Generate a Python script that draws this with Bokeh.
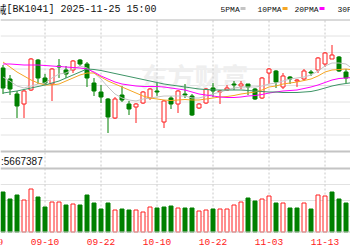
from bokeh.plotting import figure
from bokeh.models import Range1d, Span, Label, ColumnDataSource
from bokeh.core.properties import value
from bokeh.embed import file_html
from bokeh.resources import INLINE

# ---------------- data (price in chart units, volume in shares) ----------------
opens  = [85, 74, 59, 49, 63, 93, 75, 69, 87, 83, 83, 93, 89, 70, 61, 54, 35, 58, 49, 46,
          50, 55, 62, 31, 55, 49, 59, 57, 45, 50, 65, 61, 63, 69, 67, 69, 64, 55, 80, 82,
          66, 76, 72, 74, 81, 83, 89, 94, 96, 81, 77]
highs  = [88, 78, 62, 63, 95, 94, 79, 85, 94, 87, 93, 94, 91, 75, 68, 55, 56, 67, 52, 50,
          62, 65, 70, 53, 57, 63, 69, 59, 50, 65, 70, 63, 68, 72, 72, 69, 65, 76, 85, 83,
          80, 77, 74, 84, 83, 96, 101, 108, 97, 84, 79]
lows   = [59, 58, 35, 35, 62, 69, 68, 52, 75, 75, 80, 87, 66, 57, 50, 20, 34, 51, 38, 30,
          49, 53, 57, 25, 44, 40, 55, 37, 44, 49, 56, 49, 62, 63, 64, 58, 53, 54, 69, 65,
          64, 69, 66, 72, 77, 80, 86, 94, 81, 70, 62]
closes = [65, 64, 47, 62, 94, 75, 70, 84, 86, 79, 92, 89, 75, 62, 56, 36, 54, 53, 44, 49,
          61, 64, 61, 52, 49, 62, 58, 38, 49, 64, 62, 62, 65, 68, 69, 66, 54, 75, 84, 71,
          77, 74, 73, 82, 80, 95, 100, 98, 82, 75, 67]
close_before = 68

volumes = [5000000, 4125000, 4625000, 4000000, 5375000, 4375000, 3125000, 3750000, 3750000, 3375000,
           3500000, 3375000, 4625000, 3625000, 2875000, 3625000, 2750000, 2875000, 2750000, 2750000,
           2500000, 3125000, 3000000, 3125000, 3250000, 3000000, 3000000, 3000000, 2625000, 2750000,
           2875000, 2875000, 2875000, 3375000, 3750000, 4250000, 3875000, 4125000, 4500000, 3625000,
           3625000, 3000000, 3000000, 3625000, 2875000, 4625000, 4500000, 5000000, 4125000, 3625000,
           3000000]

ma5  = [76, 72, 67, 65, 67, 69, 70, 75, 79, 80, 84, 87, 85, 80, 74, 66, 59, 55, 53, 52,
        54, 55, 56, 57, 57, 57, 57, 55, 55, 57, 59, 61, 63, 65, 66, 66, 66, 67, 69, 70,
        72, 74, 75, 76, 78, 82, 87, 90, 90, 89, 84]
ma10 = [91, 86, 81, 77, 73, 70, 68, 68, 69, 72, 75, 78, 80, 80, 76, 72, 69, 66, 63, 60,
        57, 55, 54, 53, 52.5, 53, 53.5, 53, 53, 54, 55, 56, 56.5, 57.5, 59, 60, 61, 63, 66, 67,
        69, 70, 71, 72.5, 74, 77, 81, 83, 83.5, 84, 83]
ma20 = [89, 89, 88.5, 88, 88, 88, 87.5, 87, 86.5, 86, 85.5, 85, 84, 81, 77, 74, 71, 69, 68, 67,
        66.5, 66.5, 66.5, 66, 65, 64, 63, 61, 59, 58, 57, 56, 55.5, 55.5, 56, 57, 57.5, 58.5, 60, 61,
        62, 62.5, 63, 64.5, 66, 68, 70.5, 73, 74.5, 75, 75.5]
ma30 = [60, 61, 62, 63.5, 65, 66.5, 68, 70, 72, 75, 78, 81, 84, 83.5, 82.5, 81, 79.5, 78, 76.5, 75,
        73.5, 72, 70.5, 69, 68, 67, 66, 65, 64, 63.5, 63, 63, 63, 63, 63, 62.5, 62, 61.5, 61, 61,
        60.5, 60.5, 60.5, 61, 61.5, 63, 65, 67, 68.5, 69.5, 70.5]

date_pos = [-2, 6, 14, 22, 30, 38, 46]
date_labels = ["08-29", "09-10", "09-22", "10-10", "10-22", "11-03", "11-13"]

title_name = "医疗器械"
title_rest = "[BK1041] 2025-11-25 15:00"
ma_names = ["5PMA", "10PMA", "20PMA", "30PMA"]
ma_colors = ["#c4c4c4", "#f5a623", "#ff00ff", "#3d9466"]
vol_text = ":5667387"

UP = "#ff1e1e"
DOWN = "#008000"

# ---------------- layout helpers (screen pixel -> data) ----------------
VOL_PER_PX = 125000


def xd(px):
    return (px - 2.5) / 7.0


def yd(py):
    return 152.5 - py


p = figure(width=350, height=250, output_backend="svg", toolbar_location=None,
           x_range=Range1d(xd(0), xd(350)), y_range=Range1d(yd(250), yd(0)),
           x_axis_location=None, y_axis_location=None, min_border=0)
p.outline_line_color = None
p.grid.visible = False
p.background_fill_color = "white"
p.border_fill_color = "white"
p.extra_y_ranges = {"vol": Range1d(-18.5 * VOL_PER_PX, 231.5 * VOL_PER_PX)}

# watermark
p.text(x=[xd(140)], y=[yd(76)], text=["东方财富"], text_font=value("Noto Sans CJK SC"),
       text_font_size="27px", text_font_style="bold", text_color="#efefef",
       text_align="left", text_baseline="middle")

# horizontal grid lines
for py in [35.5, 52, 68.5, 85, 101.5, 118, 134.5]:
    p.add_layout(Span(location=yd(py), dimension="width", line_color="#e2e2e2",
                      line_width=1, level="underlay"))
for py in [184, 200, 216]:
    p.add_layout(Span(location=yd(py), dimension="width", line_color="#e2e2e2",
                      line_width=1, level="underlay"))
p.add_layout(Span(location=yd(19.5), dimension="width", line_color="#b4b4b4", line_width=1))
p.add_layout(Span(location=yd(151), dimension="width", line_color="#c4c4c4", line_width=2))
p.add_layout(Span(location=yd(168), dimension="width", line_color="#c4c4c4", line_width=2))
p.add_layout(Span(location=yd(231.5), dimension="width", line_color="#c8c8c8", line_width=1))

# vertical dashed grid at date ticks
p.segment(x0=date_pos, y0=[yd(20)] * len(date_pos), x1=date_pos, y1=[yd(231)] * len(date_pos),
          line_color="#c8c8c8", line_width=1, line_dash="2 2")

# candles
n = len(closes)
idx = list(range(n))
cup = [c > o for o, c in zip(opens, closes)]
ccol = [UP if u else DOWN for u in cup]
cfill = ["white" if u else DOWN for u in cup]
btop = [max(o, c) for o, c in zip(opens, closes)]
bbot = [min(o, c) for o, c in zip(opens, closes)]
src = ColumnDataSource(dict(x=idx, h=highs, l=lows, t=btop, b=bbot, col=ccol, fill=cfill))
p.segment(x0="x", y0="h", x1="x", y1="l", line_color="col", line_width=1, source=src)
p.vbar(x="x", width=4 / 7.0, top="t", bottom="b", fill_color="fill", line_color="col",
       line_width=1, source=src)

# moving averages
for vals, col in zip([ma5, ma10, ma20, ma30], ma_colors):
    p.line(idx, vals, line_color=col, line_width=1)

# volume (colour by close vs previous close)
prev = [close_before] + closes[:-1]
vup = [c >= pc for c, pc in zip(closes, prev)]
vsrc = ColumnDataSource(dict(x=idx, v=volumes, col=[UP if u else DOWN for u in vup],
                             fill=["white" if u else DOWN for u in vup]))
p.vbar(x="x", width=4 / 7.0, top="v", bottom=0, fill_color="fill", line_color="col",
       line_width=1, y_range_name="vol", source=vsrc)

# date labels
p.text(x=date_pos, y=[yd(241)] * len(date_pos), text=date_labels,
       text_font=value("Liberation Mono"), text_font_size="9.5px", text_color="#ff2020",
       text_align="center", text_baseline="middle")

# title
p.add_layout(Label(x=xd(6), y=yd(8.5), text=title_name, text_font="Noto Sans CJK SC",
                   text_font_size="11px", text_color="#111111", text_align="right",
                   text_baseline="middle"))
p.add_layout(Label(x=xd(6), y=yd(8.5), text=title_rest, text_font="Liberation Mono",
                   text_font_size="10px", text_color="#111111", text_align="left",
                   text_baseline="middle"))

# MA legend
leg_x = [220, 257, 294, 337]
for name, col, lx in zip(ma_names, ma_colors, leg_x):
    lab = Label(x=xd(lx), y=yd(8.5), text=name, text_font="Liberation Mono",
                text_font_size="8px", text_color="#111111", text_align="left",
                text_baseline="middle")
    p.add_layout(lab)
mk_left = [240, 282, 319]
p.quad(left=[xd(v) for v in mk_left], right=[xd(v + 5) for v in mk_left],
       top=[yd(6.5)] * 3, bottom=[yd(9.5)] * 3, fill_color=ma_colors[:3], line_color=None)

# volume value label
p.add_layout(Label(x=xd(0.5), y=yd(161), text=vol_text, text_font="Liberation Sans",
                   text_font_size="10px", text_color="#111111", text_align="left",
                   text_baseline="middle"))

open("out.html", "w").write(file_html(p, INLINE))
